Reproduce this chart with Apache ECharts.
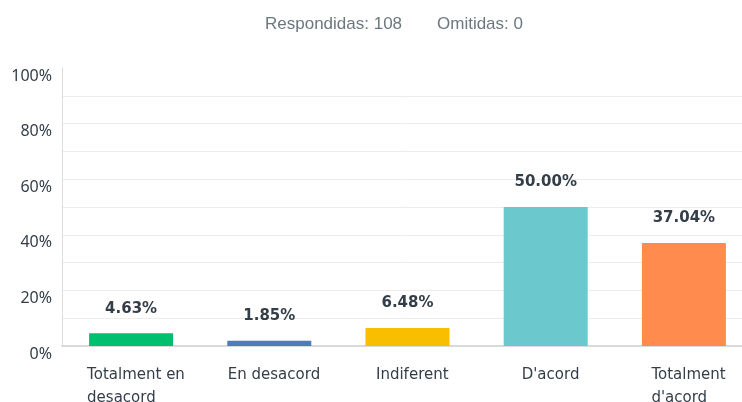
<!DOCTYPE html>
<html>
<head>
<meta charset="utf-8">
<script src="https://cdn.jsdelivr.net/npm/echarts@6/dist/echarts.min.js"></script>
<style>
html,body{margin:0;padding:0;background:#fff;overflow:hidden;}
#main{width:742px;height:402px;}
</style>
</head>
<body>
<div id="main"></div>
<script>
var categories = ['Totalment en\ndesacord', 'En desacord', 'Indiferent', "D'acord", "Totalment\nd'acord"];
var values = [4.63, 1.85, 6.48, 50.00, 37.04];
var barColors = ['#00bf6f', '#507cb6', '#f9be00', '#6bc8cd', '#ff8b4f'];
var yTicks = [0, 20, 40, 60, 80, 100];
var answered = 108;
var skipped = 0;

var catFont = '15px "DejaVu Sans"';
var measureCtx = document.createElement('canvas').getContext('2d');
measureCtx.font = catFont;
function blockWidth(label) {
  var lines = label.split('\n');
  var w = 0;
  lines.forEach(function (l) { w = Math.max(w, measureCtx.measureText(l).width); });
  return Math.ceil(w);
}
var richStyles = {};
categories.forEach(function (c, i) {
  richStyles['c' + i] = { width: blockWidth(c), align: 'left', fontSize: 15, fontFamily: 'DejaVu Sans', color: '#333e48', lineHeight: 23 };
});

var chart = echarts.init(document.getElementById('main'), null, { renderer: 'canvas' });
chart.setOption({
  animation: false,
  graphic: [
    { type: 'text', left: 265, top: 16, style: { text: 'Respondidas: ' + answered, fontSize: 17, fontFamily: 'Liberation Sans', fill: '#6b787f' } },
    { type: 'text', left: 437, top: 16, style: { text: 'Omitidas: ' + skipped, fontSize: 17, fontFamily: 'Liberation Sans', fill: '#6b787f' } }
  ],
  grid: { left: 62, width: 691, top: 68, bottom: 56, containLabel: false, outerBoundsMode: 'none' },
  xAxis: {
    type: 'category',
    data: categories,
    axisTick: { show: false },
    axisLine: { show: true, lineStyle: { color: '#d9d9d9', width: 2 } },
    axisLabel: {
      interval: 0,
      margin: 18,
      padding: [0, 0, 0, 10],
      formatter: function (val, idx) {
        return val.split('\n').map(function (l) { return '{c' + idx + '|' + l + '}'; }).join('\n');
      },
      rich: richStyles
    }
  },
  yAxis: {
    type: 'value',
    min: 0,
    max: 100,
    interval: 10,
    axisLine: { show: true, lineStyle: { color: '#dddddd', width: 1 } },
    axisTick: { show: false },
    splitLine: { show: true, showMaxLine: false, lineStyle: { color: '#ececec', width: 1 } },
    axisLabel: {
      margin: 10,
      verticalAlign: 'top',
      fontSize: 16,
      fontFamily: 'Noto Sans',
      color: '#333e48',
      formatter: function (v) { return yTicks.indexOf(v) >= 0 ? v + '%' : ''; }
    }
  },
  series: [{
    type: 'bar',
    barWidth: 84,
    data: values.map(function (v, i) { return { value: v, itemStyle: { color: barColors[i] } }; }),
    label: {
      show: true,
      position: 'top',
      distance: 17,
      fontSize: 15,
      fontFamily: 'DejaVu Sans',
      fontWeight: 'bold',
      color: '#333e48',
      formatter: function (p) { return p.value.toFixed(2) + '%'; }
    }
  }]
});
</script>
</body>
</html>
